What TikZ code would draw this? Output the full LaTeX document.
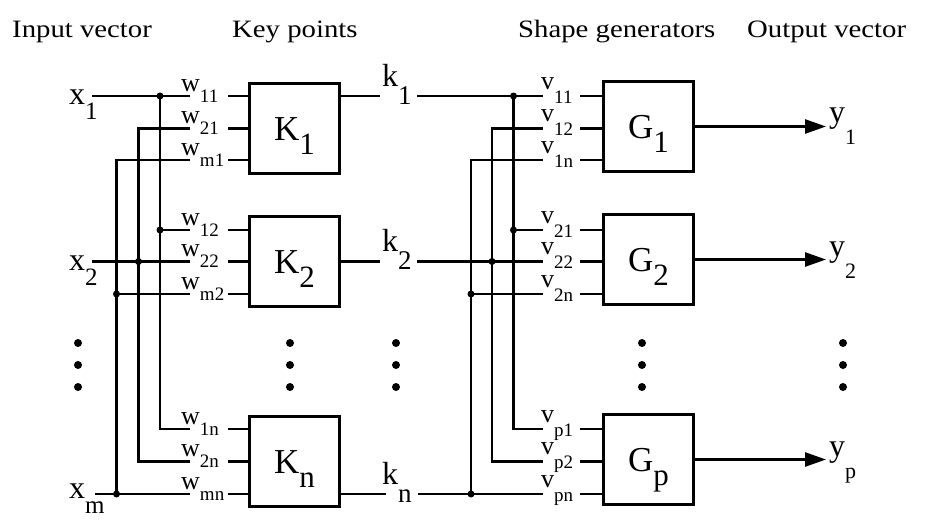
\documentclass[tikz,border=0pt]{standalone}
\usepackage{fontspec}
\setmainfont{Liberation Serif}
\newfontfamily\ttlfont[FakeStretch=1.15]{Liberation Serif}
\usetikzlibrary{arrows.meta}
\newcommand{\fs}[1]{\fontsize{#1}{#1}\selectfont}
\newcommand{\sublbl}[5]{{\fs{#3}#1}\raisebox{#5}{\fs{#4}#2}}
\tikzset{
  wire/.style={line width=2.6pt, line join=miter},
  blk/.style={draw, line width=2.8pt, minimum width=90pt, minimum height=90pt, inner sep=0pt, text height=30pt, text depth=7pt},
  lbl/.style={inner sep=0pt, anchor=base west},
  jdot/.style={circle, fill, inner sep=0pt, minimum size=7pt},
  edot/.style={circle, fill, inner sep=0pt, minimum size=8pt},
  ttl/.style={inner sep=0pt, anchor=base west, font=\ttlfont\fs{25}},
  outarrow/.style={line width=2.6pt, -{Triangle[length=21pt,width=14pt]}},
}
\begin{document}
\begin{tikzpicture}[x=1pt,y=-1pt]
\useasboundingbox[fill=white] (0,0) rectangle (951,528);
% titles
\node[ttl] (t1) at (12,37) {Input vector};
\node[ttl] (t2) at (232,37) {Key points};
\node[ttl] (t3) at (518,37) {Shape generators};
\node[ttl] (t4) at (747,37) {Output vector};
% boxes
\node[blk] (K1) at (294.5,128.5) {\sublbl{K}{1}{35}{31}{-14pt}};
\node[blk] (K2) at (294.5,261.5) {\sublbl{K}{2}{35}{31}{-14pt}};
\node[blk] (Kn) at (294.5,461.5) {\sublbl{K}{n}{35}{31}{-14pt}};
\node[blk] (G1) at (648.5,126.5) {\sublbl{G}{1}{35}{31}{-14pt}};
\node[blk] (G2) at (648.5,259.5) {\sublbl{G}{2}{35}{31}{-14pt}};
\node[blk] (Gp) at (648.5,459.5) {\sublbl{G}{p}{35}{31}{-14pt}};
% input labels
\node[lbl] (lx1) at (69,104) {\sublbl{x}{1}{32}{25}{-15pt}};
\node[lbl] (lx2) at (69,270) {\sublbl{x}{2}{32}{25}{-15pt}};
\node[lbl] (lxm) at (69,498) {\sublbl{x}{m}{32}{25}{-15pt}};
% w labels
\node[lbl] (lw11) at (181,91) {\sublbl{w}{11}{26}{19}{-11pt}};
\node[lbl] (lw21) at (181,123.5) {\sublbl{w}{21}{26}{19}{-11pt}};
\node[lbl] (lwm1) at (181,155) {\sublbl{w}{m1}{26}{19}{-11pt}};
\node[lbl] (lw12) at (181,225) {\sublbl{w}{12}{26}{19}{-11pt}};
\node[lbl] (lw22) at (181,256.5) {\sublbl{w}{22}{26}{19}{-11pt}};
\node[lbl] (lwm2) at (181,289) {\sublbl{w}{m2}{26}{19}{-11pt}};
\node[lbl] (lw1n) at (181,424) {\sublbl{w}{1n}{26}{19}{-11pt}};
\node[lbl] (lw2n) at (181,456.5) {\sublbl{w}{2n}{26}{19}{-11pt}};
\node[lbl] (lwmn) at (181,489) {\sublbl{w}{mn}{26}{19}{-11pt}};
% k labels
\node[lbl] (lk1) at (382,86) {\sublbl{k}{1}{32}{27}{-18pt}};
\node[lbl] (lk2) at (382,251.5) {\sublbl{k}{2}{32}{27}{-18pt}};
\node[lbl] (lkn) at (382,484) {\sublbl{k}{n}{32}{27}{-18pt}};
% v labels
\node[lbl] (lv11) at (541,89) {\sublbl{v}{11}{26}{19}{-14pt}};
\node[lbl] (lv12) at (541,121.5) {\sublbl{v}{12}{26}{19}{-14pt}};
\node[lbl] (lv1n) at (541,153) {\sublbl{v}{1n}{26}{19}{-14pt}};
\node[lbl] (lv21) at (541,223) {\sublbl{v}{21}{26}{19}{-14pt}};
\node[lbl] (lv22) at (541,254.5) {\sublbl{v}{22}{26}{19}{-14pt}};
\node[lbl] (lv2n) at (541,287) {\sublbl{v}{2n}{26}{19}{-14pt}};
\node[lbl] (lvp1) at (541,422) {\sublbl{v}{p1}{26}{19}{-14pt}};
\node[lbl] (lvp2) at (541,454.5) {\sublbl{v}{p2}{26}{19}{-14pt}};
\node[lbl] (lvpn) at (541,487) {\sublbl{v}{pn}{26}{19}{-14pt}};
% output labels
\node[lbl] (ly1) at (829,122) {\sublbl{y}{1}{32}{22}{-22pt}};
\node[lbl] (ly2) at (829,256) {\sublbl{y}{2}{32}{22}{-22pt}};
\node[lbl] (lyp) at (829,456) {\sublbl{y}{p}{32}{22}{-22pt}};
% coordinates (left)
\coordinate (x1s) at (92,96);
\coordinate (x2s) at (92,261.5);
\coordinate (xms) at (95,494);
\coordinate (jx1) at (160,96);
\coordinate (jx1b) at (160,230);
\coordinate (cx1) at (160,429);
\coordinate (cx2a) at (138.5,128.5);
\coordinate (jx2) at (138.5,261.5);
\coordinate (cx2c) at (138.5,461.5);
\coordinate (cxma) at (116.5,160);
\coordinate (jxm2) at (116.5,294);
\coordinate (jxm) at (116.5,494);
\foreach \n/\r in {11/96,21/128.5,m1/160,12/230,22/261.5,m2/294,1n/429,2n/461.5,mn/494}{
  \coordinate (e\n) at (189.5,\r);
  \coordinate (s\n) at (228,\r);
}
% left wires
\draw[wire] (x1s) -- (e11);
\draw[wire] (jx1) -- (cx1) -- (e1n);
\draw[wire] (jx1b) -- (e12);
\draw[wire] (e21) -- (cx2a) -- (cx2c) -- (e2n);
\draw[wire] (x2s) -- (e22);
\draw[wire] (em1) -- (cxma) -- (jxm);
\draw[wire] (jxm2) -- (em2);
\draw[wire] (xms) -- (emn);
% stubs into K boxes
\foreach \n in {11,21,m1}{\draw[wire] (s\n) -- (s\n -| K1.west);}
\foreach \n in {12,22,m2}{\draw[wire] (s\n) -- (s\n -| K2.west);}
\foreach \n in {1n,2n,mn}{\draw[wire] (s\n) -- (s\n -| Kn.west);}
\foreach \c in {jx1,jx1b,jx2,jxm2,jxm}{\node[jdot] at (\c) {};}
% K outputs
\coordinate (k1a) at (380,96);
\coordinate (k2a) at (380,261.5);
\coordinate (kna) at (386,494);
\coordinate (k1b) at (417,96);
\coordinate (k2b) at (417,261.5);
\coordinate (knb) at (418,494);
\draw[wire] (K1.east |- k1a) -- (k1a);
\draw[wire] (K2.east |- k2a) -- (k2a);
\draw[wire] (Kn.east |- kna) -- (kna);
% right coordinates
\coordinate (jv1) at (513.5,96);
\coordinate (jv1b) at (513.5,230);
\coordinate (cv1) at (513.5,429);
\coordinate (cv2a) at (492,128.5);
\coordinate (jv2) at (492,261.5);
\coordinate (cv2c) at (492,461.5);
\coordinate (cvna) at (471,160);
\coordinate (jvn2) at (471,294);
\coordinate (jvn) at (471,494);
\foreach \n/\r in {11/96,12/128.5,1n/160,21/230,22/261.5,2n/294,p1/429,p2/461.5,pn/494}{
  \coordinate (f\n) at (542.5,\r);
  \coordinate (g\n) at (580,\r);
}
\draw[wire] (k1b) -- (f11);
\draw[wire] (jv1) -- (cv1) -- (fp1);
\draw[wire] (jv1b) -- (f21);
\draw[wire] (f12) -- (cv2a) -- (cv2c) -- (fp2);
\draw[wire] (k2b) -- (f22);
\draw[wire] (f1n) -- (cvna) -- (jvn);
\draw[wire] (jvn2) -- (f2n);
\draw[wire] (knb) -- (fpn);
\foreach \n in {11,12,1n}{\draw[wire] (g\n) -- (g\n -| G1.west);}
\foreach \n in {21,22,2n}{\draw[wire] (g\n) -- (g\n -| G2.west);}
\foreach \n in {p1,p2,pn}{\draw[wire] (g\n) -- (g\n -| Gp.west);}
\foreach \c in {jv1,jv1b,jv2,jvn2,jvn}{\node[jdot] at (\c) {};}
% outputs
\coordinate (o1) at (826,126.5);
\coordinate (o2) at (826,259.5);
\coordinate (op) at (826,459.5);
\draw[outarrow] (G1.east) -- (o1);
\draw[outarrow] (G2.east) -- (o2);
\draw[outarrow] (Gp.east) -- (op);
% ellipsis dots
\foreach \x in {78,290,396,642,843}{
  \foreach \y in {343,365,387}{\node[edot] at (\x,\y) {};}
}
\end{tikzpicture}
\end{document}
